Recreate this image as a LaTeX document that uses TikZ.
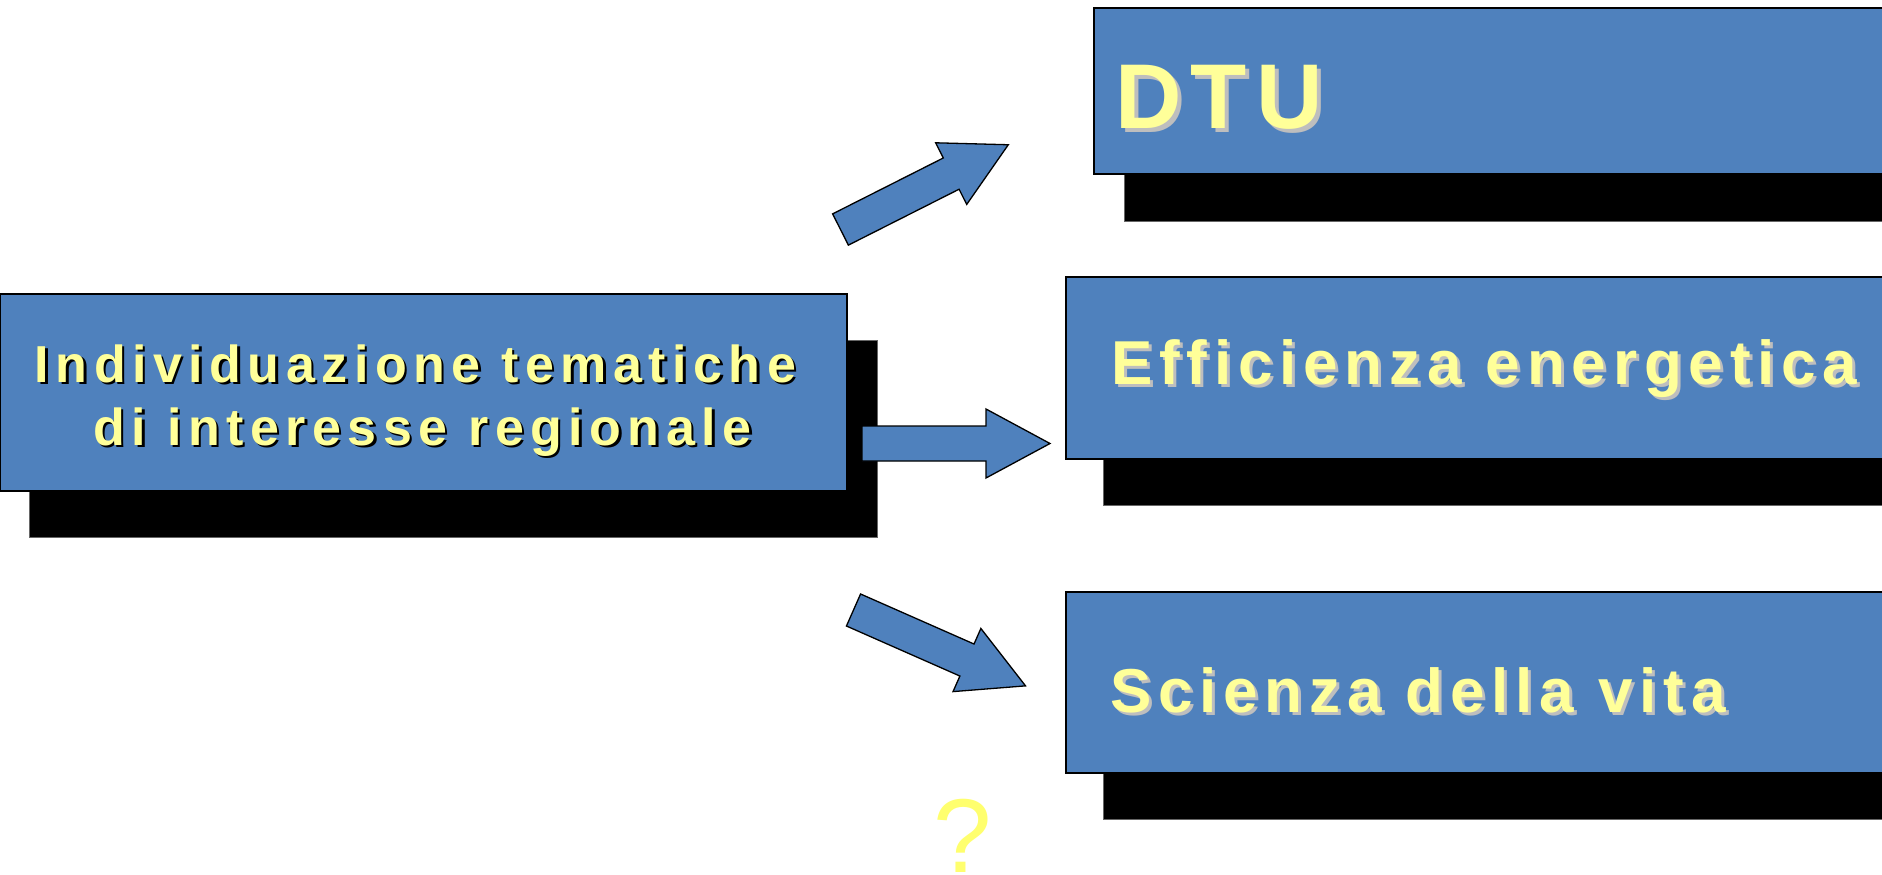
\documentclass[tikz,border=0pt]{standalone}
\usepackage{fontspec}
\setmainfont{Liberation Sans}
\newfontfamily\lsbmain[LetterSpace=12.5]{Liberation Sans}
\newfontfamily\lsbright[LetterSpace=11]{Liberation Sans}
\newfontfamily\lsbbig[LetterSpace=10]{Liberation Sans}
\definecolor{boxblue}{RGB}{79,129,189}
\definecolor{txtyellow}{RGB}{255,255,153}
\definecolor{qyellow}{RGB}{255,255,110}
\definecolor{shgray}{RGB}{190,190,190}
\begin{document}
\begin{tikzpicture}[x=1pt,y=-1pt,
  bluebox/.style={draw=black, line width=1.5pt, fill=boxblue, inner sep=0pt, outer sep=0pt, anchor=north west},
  shadowbox/.style={draw=black!60, line width=1pt, fill=black, inner sep=0pt, outer sep=0pt, anchor=north west},
  blockarrow/.style={draw=black, line width=1.3pt, fill=boxblue, line join=miter},
  lbl/.style={inner sep=0pt, outer sep=0pt, text=txtyellow},
  lblsh/.style={inner sep=0pt, outer sep=0pt},
  mainfont/.style={font=\lsbmain\bfseries\fontsize{52}{63}\selectfont},
  rightfont/.style={font=\lsbright\bfseries\fontsize{62}{70}\selectfont},
  bigfont/.style={font=\lsbbig\bfseries\fontsize{92}{100}\selectfont}
]
\useasboundingbox (0,0) rectangle (1882,875);
\clip (0,0) rectangle (1882,875);
\fill[white] (0,0) rectangle (1882,875);

% main box
\node[shadowbox, minimum width=848pt, minimum height=197pt] (mainsh) at (29,340) {};
\node[bluebox, minimum width=847pt, minimum height=197pt] (main) at (0,294) {};
\node[lblsh, mainfont, text=black, anchor=base] (m1sh) at (418,384.5) {Individuazione tematiche};
\node[lbl, mainfont, anchor=base] (m1) at (415.5,382) {Individuazione tematiche};
\node[lblsh, mainfont, text=black, anchor=base] (m2sh) at (425,447.5) {di interesse regionale};
\node[lbl, mainfont, anchor=base] (m2) at (422.5,445) {di interesse regionale};

% DTU box
\node[shadowbox, minimum width=900pt, minimum height=166pt] (dtush) at (1124,55) {};
\node[bluebox, minimum width=900pt, minimum height=166pt] (dtubox) at (1094,8) {};
\node[lblsh, bigfont, text=shgray, anchor=base west] (dtutsh) at (1119,132) {DTU};
\node[lbl, bigfont, anchor=base west] (dtut) at (1115,128) {DTU};

% Efficienza box
\node[shadowbox, minimum width=900pt, minimum height=182pt] (effsh) at (1103,323) {};
\node[bluebox, minimum width=900pt, minimum height=182pt] (effbox) at (1066,277) {};
\node[lblsh, rightfont, text=shgray, anchor=base west] (efftsh) at (1114,387) {Efficienza energetica};
\node[lbl, rightfont, anchor=base west] (efft) at (1111,384) {Efficienza energetica};

% Scienza box
\node[shadowbox, minimum width=900pt, minimum height=181pt] (scish) at (1103,638) {};
\node[bluebox, minimum width=900pt, minimum height=181pt] (scibox) at (1066,592) {};
\node[lblsh, rightfont, text=shgray, anchor=base west] (scitsh) at (1113,715) {Scienza della vita};
\node[lbl, rightfont, anchor=base west] (scit) at (1110,712) {Scienza della vita};

% block arrows (tail centre, then rotation)
\coordinate (upTail) at (840.5,229.5);
\coordinate (midTail) at (862,443.5);
\coordinate (downTail) at (853.5,610);
\foreach \t/\a in {upTail/26.8, midTail/0, downTail/-23.8}{
  \draw[blockarrow, shift={(\t)}, rotate=\a]
    (0,-17.5) -- (124,-17.5) -- (124,-34.5) -- (188,0) -- (124,34.5) -- (124,17.5) -- (0,17.5) -- cycle;
}

% question mark
\node[inner sep=0pt, text=qyellow, anchor=base, font=\fontsize{105}{105}\selectfont] (q) at (963,872) {?};
\end{tikzpicture}
\end{document}
